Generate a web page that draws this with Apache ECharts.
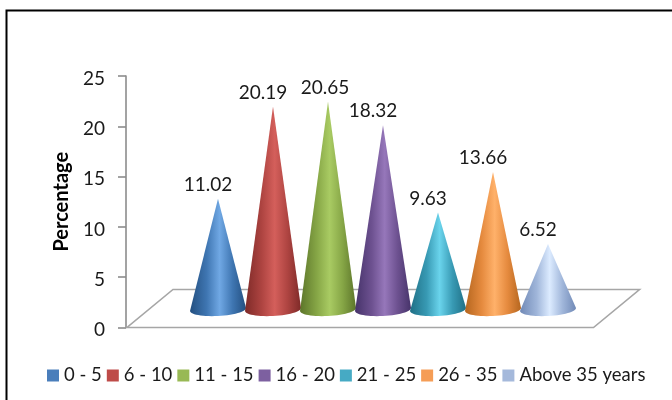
<!DOCTYPE html>
<html>
<head>
<meta charset="utf-8">
<style>html,body{margin:0;padding:0;background:#fff}#chart{width:672px;height:400px}</style>
<script src="https://cdn.jsdelivr.net/npm/echarts@6/dist/echarts.min.js"></script>
</head>
<body>
<div id="chart"></div>
<script>
// Age groups and their share of the total, in percent
const ageGroups = ['0 - 5', '6 - 10', '11 - 15', '16 - 20', '21 - 25', '26 - 35', 'Above 35 years'];
const percentages = [11.02, 20.19, 20.65, 18.32, 9.63, 13.66, 6.52];
const legendColors = ['#4a7ebb', '#be4b48', '#98b954', '#7d60a0', '#46aac4', '#f59d56', '#a5b9db'];
// Cone shading: side edge, mid tone, highlight
const coneShades = [
  ['#234f80', '#3f76b2', '#70a8e4'],
  ['#7e2a28', '#ae4441', '#d45f5b'],
  ['#5c752a', '#86a646', '#a9cb63'],
  ['#46336a', '#6d5190', '#9677ba'],
  ['#1f6f85', '#389ab4', '#6ad4ec'],
  ['#b5661f', '#e58a3e', '#ffb16a'],
  ['#7089b6', '#a0b6da', '#dcebff']
];

const DEPTH_X = 46, DEPTH_Y = 38;  // floor skew between its front and back edges
const BASE_LIFT = 18;              // cones stand mid-way back on the floor
const BASE_RX = 28, BASE_RY = 6.5, BASE_TILT = -0.05;

function conePoints(cx, by, tipY) {
  // Tip first, then the front half of the tilted base ellipse from right to left
  const pts = [[cx, tipY]];
  const n = 28;
  for (let i = 0; i <= n; i++) {
    const t = Math.PI * i / n;
    const ex = BASE_RX * Math.cos(t);
    const ey = BASE_RY * Math.sin(t);
    pts.push([cx + ex, by + ey + ex * BASE_TILT]);
  }
  return pts;
}

const coneSeries = ageGroups.map((name, i) => ({
  name,
  type: 'custom',
  coordinateSystem: 'cartesian2d',
  itemStyle: { color: legendColors[i] },
  z: 3 + i,
  data: [[name, percentages[i]]],
  renderItem(params, api) {
    const top = api.coord([i, api.value(1)]);
    const zero = api.coord([i, 0]);
    const cx = top[0];
    const tipY = top[1] - BASE_LIFT;
    const by = zero[1] - BASE_LIFT;
    const [edge, mid, light] = coneShades[i];
    const fill = new echarts.graphic.LinearGradient(0, 0, 1, 0, [
      { offset: 0, color: edge },
      { offset: 0.3, color: mid },
      { offset: 0.53, color: light },
      { offset: 0.76, color: mid },
      { offset: 1, color: edge }
    ]);
    const labelShift = percentages[i] === 20.65 ? -3 : -10;
    return {
      type: 'group',
      children: [
        { type: 'polygon', shape: { points: conePoints(cx, by, tipY) }, style: { fill } },
        {
          type: 'text',
          style: {
            text: percentages[i].toFixed(2),
            x: cx + labelShift,
            y: tipY - 14,
            align: 'center',
            verticalAlign: 'middle',
            fill: '#1a1a1a',
            font: '19px Lato'
          }
        }
      ]
    };
  }
}));

// Slanted floor under the cones, spanning from the value axis to the far right
const floorSeries = {
  type: 'custom',
  coordinateSystem: 'cartesian2d',
  silent: true,
  z: 1,
  data: [[ageGroups[0], 0]],
  renderItem(params, api) {
    const y0 = api.coord([0, 0])[1];
    const left = api.coord([0, 0])[0] - 27.5 - 63.5;
    const right = api.coord([ageGroups.length - 1, 0])[0] + 27.5 + 18;
    return {
      type: 'polygon',
      shape: { points: [
        [left, y0],
        [right, y0],
        [right + DEPTH_X, y0 - DEPTH_Y],
        [left + DEPTH_X, y0 - DEPTH_Y]
      ] },
      style: { fill: '#fff', stroke: '#a6a6a6', lineWidth: 1.6 }
    };
  }
};

const chart = echarts.init(document.getElementById('chart'), null, { renderer: 'canvas' });
chart.setOption({
  animation: false,
  backgroundColor: '#fff',
  textStyle: { fontFamily: 'Lato' },
  grid: { left: 190.5, width: 385, top: 76, height: 251.5 },
  xAxis: {
    type: 'category',
    data: ageGroups,
    show: false
  },
  yAxis: {
    type: 'value',
    min: 0,
    max: 25,
    interval: 5,
    offset: 64.5,
    name: 'Percentage',
    nameLocation: 'middle',
    nameGap: 54,
    nameRotate: 90,
    nameTextStyle: { fontFamily: 'Lato', fontWeight: 'bold', fontSize: 20, color: '#000' },
    axisLine: { show: true, lineStyle: { color: '#8c8c8c', width: 1.6 } },
    axisTick: { show: true, length: 8, lineStyle: { color: '#8c8c8c', width: 1.6 } },
    axisLabel: {
      margin: 21,
      formatter: '{v|{value}}',
      rich: { v: { fontFamily: 'Lato', fontSize: 19, color: '#1a1a1a', padding: [5, 0, 0, 0] } }
    },
    splitLine: { show: false }
  },
  legend: {
    data: ageGroups,
    left: 42,
    top: 361,
    itemWidth: 12,
    itemHeight: 12,
    itemGap: 5,
    icon: 'rect',
    textStyle: { fontFamily: 'Lato', fontSize: 18.5, color: '#1a1a1a', padding: [0, 0, 0, 0] }
  },
  graphic: [{
    type: 'polyline',
    silent: true,
    shape: { points: [[6.5, 400], [6.5, 10.5], [672, 10.5]] },
    style: { fill: 'none', stroke: '#000', lineWidth: 2 }
  }],
  series: [floorSeries].concat(coneSeries)
});
</script>
</body>
</html>
